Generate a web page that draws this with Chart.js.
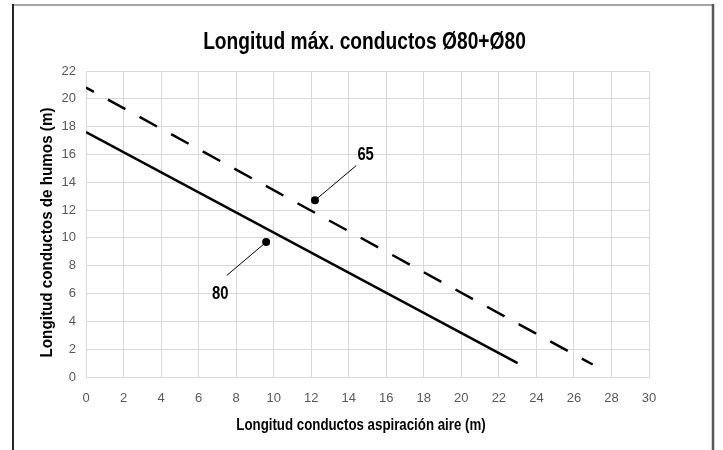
<!DOCTYPE html>
<html>
<head>
<meta charset="utf-8">
<script src="https://cdn.jsdelivr.net/npm/chart.js@4.4.0/dist/chart.umd.min.js"></script>
<style>
  html, body { margin: 0; padding: 0; background: #fff; }
  #wrap { position: relative; width: 723px; height: 450px; }
</style>
</head>
<body>
<div id="wrap"><canvas id="chart" width="723" height="450"></canvas></div>
<script>
// boiler curves: start and end of each line
var x80 = [0, 23];
var y80 = [17.6, 1.0];
var x65 = [0, 27];
var y65 = [20.8, 0.9];

var xTicks = [0, 2, 4, 6, 8, 10, 12, 14, 16, 18, 20, 22, 24, 26, 28, 30];
var yTicks = [0, 2, 4, 6, 8, 10, 12, 14, 16, 18, 20, 22];

// callouts "80" and "65": dot, end of the leader line, label
var calloutText = ['80', '65'];
var dotX = [9.6, 12.2];
var dotY = [9.7, 12.7];
var leaderX = [7.5, 14.4];
var leaderY = [7.3, 15.2];
var labelX = [7.15, 14.9];
var labelY = [5.95, 16.0];

var titleText = 'Longitud máx. conductos Ø80+Ø80';
var xTitleText = 'Longitud conductos aspiración aire (m)';
var yTitleText = 'Longitud conductos de humos (m)';

var SANS = "'Liberation Sans', Arial, sans-serif";

function pts(xs, ys) {
    return xs.map(function (x, i) { return { x: x, y: ys[i] }; });
}

var datasets = [
    {
        label: '80',
        data: pts(x80, y80),
        borderColor: '#000',
        borderWidth: 2.5,
        pointRadius: 0
    },
    {
        label: '65',
        data: pts(x65, y65),
        borderColor: '#000',
        borderWidth: 2.5,
        borderDash: [19.9, 16.1],
        borderDashOffset: 11,
        pointRadius: 0
    }
];

for (var i = 0; i < calloutText.length; i++) {
    datasets.push({
        label: 'leader ' + calloutText[i],
        data: [{ x: dotX[i], y: dotY[i] }, { x: leaderX[i], y: leaderY[i] }],
        borderColor: '#000',
        borderWidth: 1,
        pointRadius: [4, 0],
        pointBackgroundColor: '#000',
        pointBorderWidth: 0
    });
}

// narrow bold text (Arial Narrow look): squeeze Liberation Sans horizontally
function narrowText(ctx, text, x, y, size, squeeze, rot) {
    ctx.save();
    ctx.translate(x, y);
    if (rot) ctx.rotate(rot);
    ctx.scale(squeeze, 1);
    ctx.font = 'bold ' + size + 'px ' + SANS;
    ctx.fillStyle = '#000';
    ctx.textAlign = 'center';
    ctx.textBaseline = 'middle';
    ctx.fillText(text, 0, 0);
    ctx.restore();
}

var texts = {
    id: 'texts',
    afterDatasetsDraw: function (chart) {
        var ctx = chart.ctx;
        var xs = chart.scales.x, ys = chart.scales.y;
        for (var i = 0; i < calloutText.length; i++) {
            narrowText(ctx, calloutText[i], xs.getPixelForValue(labelX[i]), ys.getPixelForValue(labelY[i]), 19, 0.78, 0);
        }
        narrowText(ctx, titleText, 364.5, 42, 24, 0.8, 0);
        narrowText(ctx, xTitleText, 361, 426, 16, 0.83, 0);
        narrowText(ctx, yTitleText, 48, 232.5, 16, 0.95, -Math.PI / 2);
    }
};

// outer frame of the figure
var frame = {
    id: 'frame',
    afterDraw: function (chart) {
        var ctx = chart.ctx;
        ctx.save();
        ctx.lineWidth = 2;
        ctx.strokeStyle = '#a6a6a6';
        ctx.beginPath(); ctx.moveTo(13, 5); ctx.lineTo(713, 5); ctx.stroke();
        ctx.strokeStyle = '#262626';
        ctx.beginPath(); ctx.moveTo(13, 4); ctx.lineTo(13, 450); ctx.stroke();
        ctx.strokeStyle = '#595959';
        ctx.lineWidth = 2.5;
        ctx.beginPath(); ctx.moveTo(713, 4); ctx.lineTo(713, 450); ctx.stroke();
        ctx.restore();
    }
};

new Chart(document.getElementById('chart'), {
    type: 'line',
    data: { datasets: datasets },
    plugins: [texts, frame],
    options: {
        responsive: false,
        devicePixelRatio: 1,
        animation: false,
        layout: { padding: { left: 30, right: 74, top: 71, bottom: 14 } },
        plugins: {
            legend: { display: false },
            tooltip: { enabled: false }
        },
        scales: {
            x: {
                type: 'linear',
                min: 0,
                max: 30,
                afterBuildTicks: function (s) { s.ticks = xTicks.map(function (v) { return { value: v }; }); },
                afterFit: function (s) { s.height = 59; },
                grid: { color: '#d9d9d9', drawTicks: false },
                border: { color: '#d9d9d9' },
                ticks: { color: '#595959', padding: 14, font: { family: SANS, size: 13 } }
            },
            y: {
                type: 'linear',
                min: 0,
                max: 22,
                afterBuildTicks: function (s) { s.ticks = yTicks.map(function (v) { return { value: v }; }); },
                afterFit: function (s) { s.width = 56; },
                grid: { color: '#d9d9d9', drawTicks: false },
                border: { color: '#d9d9d9' },
                ticks: { color: '#595959', padding: 10, font: { family: SANS, size: 13 } }
            }
        }
    }
});
</script>
</body>
</html>
